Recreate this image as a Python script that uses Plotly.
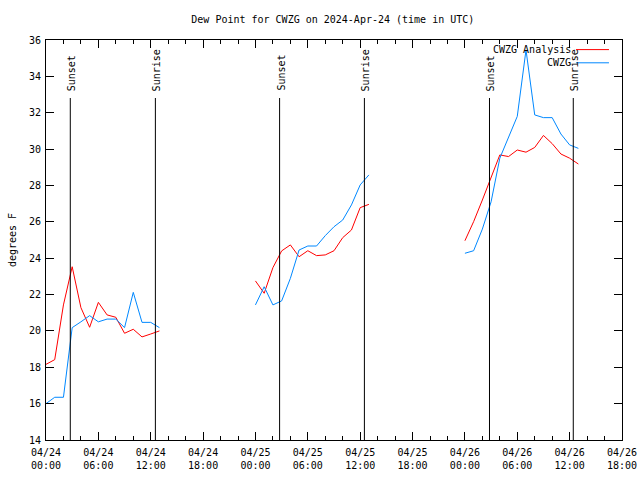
import plotly.graph_objects as go
from datetime import datetime, timedelta

start = datetime(2024, 4, 24, 0, 0)

# hourly observation offsets (hours since 2024-04-24 00:00 UTC)
hours_seg1 = list(range(0, 14))
hours_seg2 = list(range(24, 38))
hours_seg3 = list(range(48, 62))

analysis_seg1 = [18.16, 18.42, 21.43, 23.53, 21.28, 20.2, 21.57, 20.88, 20.75, 19.87, 20.09, 19.67, 19.83, 20.0]
analysis_seg2 = [22.75, 22.07, 23.48, 24.4, 24.73, 24.08, 24.41, 24.14, 24.18, 24.41, 25.13, 25.55, 26.78, 26.96]
analysis_seg3 = [24.96, 26.01, 27.2, 28.39, 29.68, 29.59, 29.95, 29.83, 30.09, 30.75, 30.3, 29.73, 29.5, 29.18]

obs_seg1 = [16.0, 16.35, 16.35, 20.18, 20.5, 20.84, 20.5, 20.65, 20.65, 20.18, 22.12, 20.47, 20.47, 20.18]
obs_seg2 = [21.43, 22.43, 21.43, 21.65, 22.89, 24.45, 24.67, 24.67, 25.24, 25.73, 26.1, 26.93, 28.03, 28.58]
obs_seg3 = [24.27, 24.41, 25.6, 27.1, 29.5, 30.6, 31.8, 35.45, 31.88, 31.73, 31.73, 30.83, 30.23, 30.04]

sunset_times = ["2024-04-24 02:47", "2024-04-25 02:46", "2024-04-26 02:49"]
sunrise_times = ["2024-04-24 12:32", "2024-04-25 12:29", "2024-04-26 12:25"]

x_range = ["2024-04-24 00:00", "2024-04-26 18:00"]
y_range = [14, 36]

series_names = ["CWZG Analysis", "CWZG"]
series_colors = ["#ff0000", "#0088ff"]


def join(segs_h, segs_v):
    xs, ys = [], []
    for hs, vs in zip(segs_h, segs_v):
        xs += [start + timedelta(hours=h) for h in hs] + [None]
        ys += list(vs) + [None]
    return xs, ys


hsegs = [hours_seg1, hours_seg2, hours_seg3]
xa, ya = join(hsegs, [analysis_seg1, analysis_seg2, analysis_seg3])
xo, yo = join(hsegs, [obs_seg1, obs_seg2, obs_seg3])

FONT = "DejaVu Sans Mono"

fig = go.Figure()
fig.add_trace(go.Scatter(x=xa, y=ya, mode="lines", name=series_names[0],
                         line=dict(color=series_colors[0], width=1), connectgaps=False))
fig.add_trace(go.Scatter(x=xo, y=yo, mode="lines", name=series_names[1],
                         line=dict(color=series_colors[1], width=1), connectgaps=False))

line_top = 0.855
label_y = 0.8675
for t in sunset_times:
    fig.add_shape(type="line", xref="x", yref="paper", x0=t, x1=t, y0=0, y1=line_top,
                  line=dict(color="black", width=1))
    fig.add_annotation(x=t, y=label_y, xref="x", yref="paper", text="Sunset", textangle=-90,
                       showarrow=False, xanchor="center", yanchor="bottom", xshift=2,
                       font=dict(family=FONT, size=10, color="black"))
for t in sunrise_times:
    fig.add_shape(type="line", xref="x", yref="paper", x0=t, x1=t, y0=0, y1=line_top,
                  line=dict(color="black", width=1))
    fig.add_annotation(x=t, y=label_y, xref="x", yref="paper", text="Sunrise", textangle=-90,
                       showarrow=False, xanchor="center", yanchor="bottom", xshift=2,
                       font=dict(family=FONT, size=10, color="black"))

# gnuplot-style key: text then line sample
key_rows = [0.976, 0.943]
for name, color, ky in zip(series_names, series_colors, key_rows):
    fig.add_annotation(x=0.9149, y=ky, xref="paper", yref="paper", text=name, showarrow=False,
                       xanchor="right", yanchor="middle",
                       font=dict(family=FONT, size=10, color="black"))
    fig.add_shape(type="line", xref="paper", yref="paper", x0=0.9201, x1=0.9774, y0=ky, y1=ky,
                  line=dict(color=color, width=1))

fig.update_layout(
    width=640, height=480,
    margin=dict(l=46, r=18, t=40, b=40),
    paper_bgcolor="white", plot_bgcolor="white",
    showlegend=False,
    font=dict(family=FONT, size=10, color="black"),
    title=dict(text="Dew Point for CWZG on 2024-Apr-24 (time in UTC)", x=0.52, xanchor="center",
               y=0.960, yanchor="middle", font=dict(family=FONT, size=10, color="black"),
               automargin=False),
)
fig.update_xaxes(
    type="date", range=x_range, showgrid=False, zeroline=False, automargin=False,
    showline=True, linecolor="black", linewidth=1, mirror="allticks",
    ticks="inside", ticklen=8, tickcolor="black",
    dtick=6 * 3600000, tick0="2024-04-24 00:00", tickformat="%m/%d<br>%H:%M",
    minor=dict(dtick=2 * 3600000, ticks="inside", ticklen=4, tickcolor="black", showgrid=False),
    tickfont=dict(family=FONT, size=10, color="black"),
    ticklabelstandoff=3,
)
fig.update_yaxes(
    range=y_range, showgrid=False, zeroline=False, automargin=False,
    showline=True, linecolor="black", linewidth=1, mirror="allticks",
    ticks="inside", ticklen=8, tickcolor="black", dtick=2,
    tickfont=dict(family=FONT, size=10, color="black"),
    ticklabelstandoff=2,
    title=dict(text="degrees F", font=dict(family=FONT, size=10, color="black"), standoff=10),
)

fig.write_html("out.html", config={"displayModeBar": False},
               post_script="document.body.style.margin='0';")
